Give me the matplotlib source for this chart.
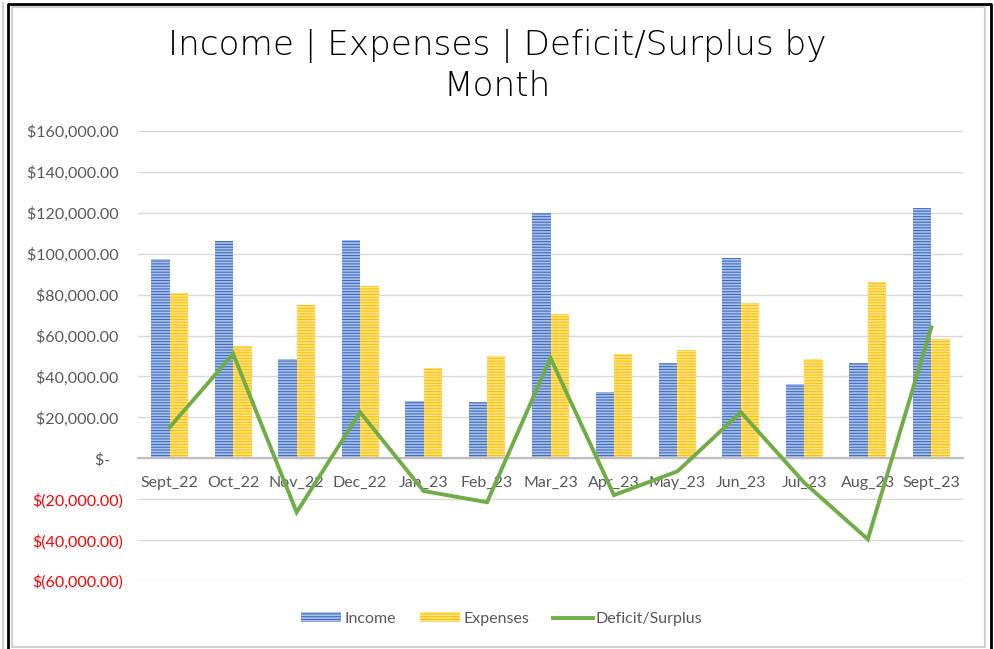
import matplotlib
matplotlib.use("Agg")
import matplotlib.pyplot as plt
from matplotlib.lines import Line2D
from matplotlib.patches import Rectangle
from matplotlib.ticker import FuncFormatter

months = ["Sept_22", "Oct_22", "Nov_22", "Dec_22", "Jan_23", "Feb_23", "Mar_23",
          "Apr_23", "May_23", "Jun_23", "Jul_23", "Aug_23", "Sept_23"]
income = [97400, 106300, 48400, 106600, 27900, 27400, 120000,
          32300, 46500, 97800, 36200, 46500, 122300]
expenses = [80700, 55000, 75000, 84200, 44000, 50000, 70500,
            51000, 53000, 76000, 48400, 86200, 58300]
deficit_surplus = [15200, 51000, -26400, 22500, -16000, -21500, 49000,
                   -18000, -6400, 22500, -12000, -39600, 64000]
y_ticks = list(range(-60000, 160001, 20000))


def money(v, _pos=None):
    if v == 0:
        return "$-   "
    if v < 0:
        return f"$({-v:,.2f})"
    return f"${v:,.2f} "


plt.rcParams["font.family"] = ["Lato", "DejaVu Sans"]
plt.rcParams["hatch.linewidth"] = 1.2

fig = plt.figure(figsize=(9.94, 6.49), dpi=100)
ax = fig.add_axes([138 / 994, 1 - 581 / 649, 825 / 994, 450 / 649])

x = list(range(len(months)))
w = 0.29
ax.bar([i - w / 2 for i in x], income, width=w, color="#3F6CC0",
       edgecolor="#A9C1EA", linewidth=0, hatch="------", zorder=2)
ax.bar([i + w / 2 for i in x], expenses, width=w, color="#FFC000",
       edgecolor="#FFE48A", linewidth=0, hatch="------", zorder=2)
ax.plot(x, deficit_surplus, color="#70AD47", linewidth=2.8, zorder=3,
        solid_joinstyle="miter")

ax.set_xlim(-0.5, len(months) - 0.5)
ax.set_ylim(-60000, 160000)
ax.set_yticks(y_ticks)
ax.yaxis.set_major_formatter(FuncFormatter(money))
ax.grid(axis="y", color="#D9D9D9", linewidth=1, zorder=0)
ax.set_axisbelow(True)

for side in ("top", "right", "left"):
    ax.spines[side].set_visible(False)
ax.spines["bottom"].set_position(("data", 0))
ax.spines["bottom"].set_color("#BFBFBF")
ax.spines["bottom"].set_linewidth(1.6)
ax.spines["bottom"].set_zorder(2.5)

ax.set_xticks(x)
ax.set_xticklabels(months)
ax.tick_params(axis="x", length=0, pad=13, labelsize=11.5, labelcolor="#595959")
ax.tick_params(axis="y", length=0, pad=11, labelsize=11.5, labelcolor="#595959")
for lbl, v in zip(ax.get_yticklabels(), y_ticks):
    if v < 0:
        lbl.set_color("#FF0000")

title_kw = dict(ha="center", va="center", fontsize=24.6, color="#000000",
                family="DejaVu Sans", weight="light")
fig.text(0.5, 1 - 46 / 649, "Income | Expenses | Deficit/Surplus by", **title_kw)
fig.text(0.5, 1 - 87 / 649, "Month", **title_kw)

handles = [
    Rectangle((0, 0), 1, 1, facecolor="#3F6CC0", edgecolor="#A9C1EA",
              linewidth=0, hatch="------"),
    Rectangle((0, 0), 1, 1, facecolor="#FFC000", edgecolor="#FFE48A",
              linewidth=0, hatch="------"),
    Line2D([0], [0], color="#70AD47", linewidth=2.8),
]
fig.legend(handles, ["Income", "Expenses", "Deficit/Surplus"],
           loc="center", bbox_to_anchor=(0.505, 1 - 619 / 649), ncol=3,
           frameon=False, fontsize=11.5, labelcolor="#595959",
           handlelength=2.5, handleheight=0.6, handletextpad=0.2,
           columnspacing=1.5)

# chart border, as in the screenshot
H = 649.0
W = 994.0
fig.add_artist(Line2D([3 / W, 3 / W], [0, 1 - 3 / H], color="#D0D0D0", lw=1.5))
fig.add_artist(Line2D([8 / W, 8 / W, 991 / W, 991 / W],
                      [0, 1 - 3.5 / H, 1 - 3.5 / H, 0], color="#000000", lw=2))
fig.add_artist(Rectangle((12 / W, 2 / H), 973 / W, 1 - 9 / H,
                         transform=fig.transFigure, fill=False,
                         edgecolor="#D0D0D0", lw=1.5))

fig.savefig("out.png", dpi=100)
